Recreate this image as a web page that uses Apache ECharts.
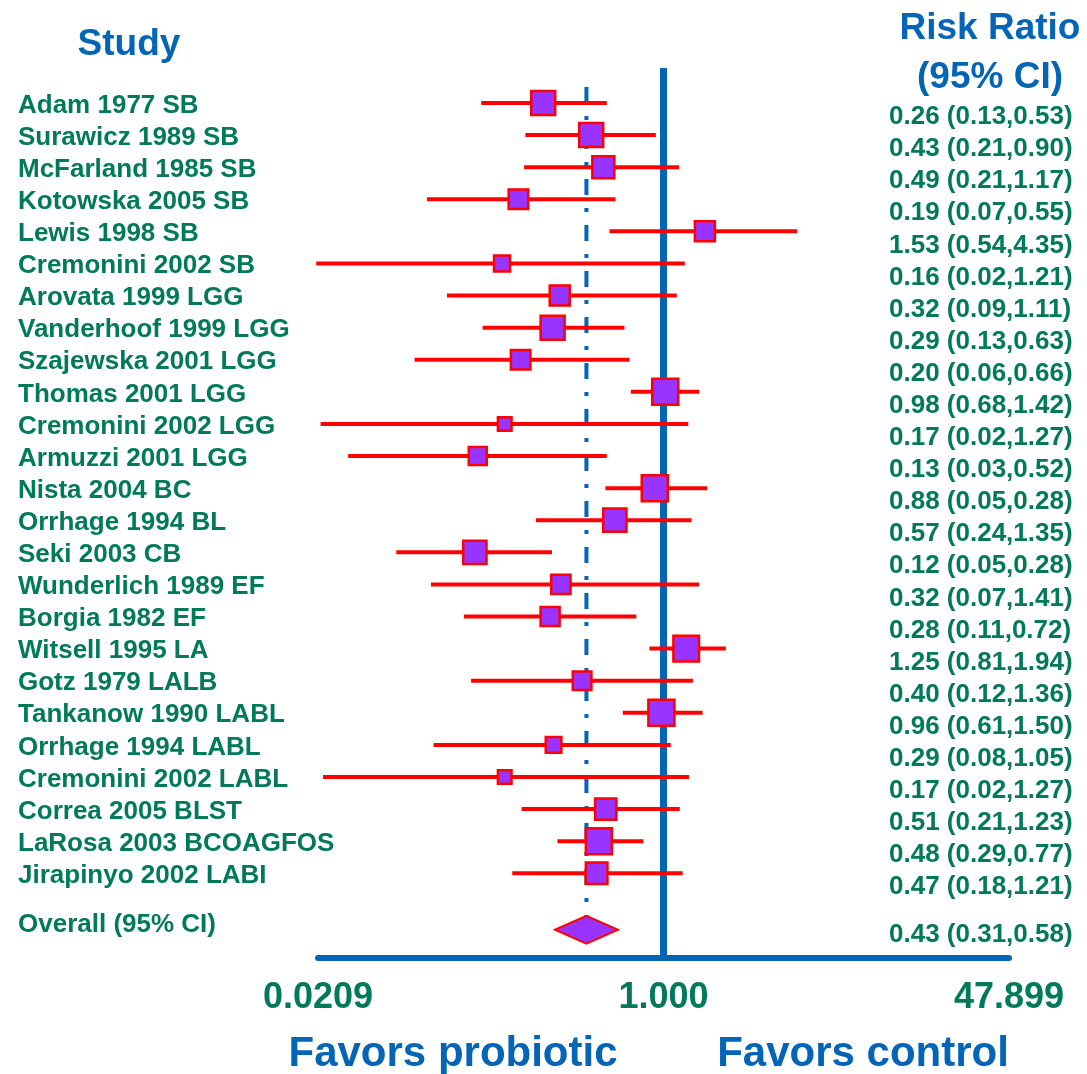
<!DOCTYPE html>
<html>
<head>
<meta charset="utf-8">
<script src="https://cdn.jsdelivr.net/npm/echarts@6/dist/echarts.min.js"></script>
<style>
html,body{margin:0;padding:0;background:#fff;}
#chart{width:1087px;height:1074px;}
</style>
</head>
<body>
<div id="chart"></div>
<script>
// ---- Data ----
const studies = [
  'Adam 1977 SB','Surawicz 1989 SB','McFarland 1985 SB','Kotowska 2005 SB','Lewis 1998 SB',
  'Cremonini 2002 SB','Arovata 1999 LGG','Vanderhoof 1999 LGG','Szajewska 2001 LGG','Thomas 2001 LGG',
  'Cremonini 2002 LGG','Armuzzi 2001 LGG','Nista 2004 BC','Orrhage 1994 BL','Seki 2003 CB',
  'Wunderlich 1989 EF','Borgia 1982 EF','Witsell 1995 LA','Gotz 1979 LALB','Tankanow 1990 LABL',
  'Orrhage 1994 LABL','Cremonini 2002 LABL','Correa 2005 BLST','LaRosa 2003 BCOAGFOS','Jirapinyo 2002 LABI'
];
const ciText = [
  '0.26 (0.13,0.53)','0.43 (0.21,0.90)','0.49 (0.21,1.17)','0.19 (0.07,0.55)','1.53 (0.54,4.35)',
  '0.16 (0.02,1.21)','0.32 (0.09,1.11)','0.29 (0.13,0.63)','0.20 (0.06,0.66)','0.98 (0.68,1.42)',
  '0.17 (0.02,1.27)','0.13 (0.03,0.52)','0.88 (0.05,0.28)','0.57 (0.24,1.35)','0.12 (0.05,0.28)',
  '0.32 (0.07,1.41)','0.28 (0.11,0.72)','1.25 (0.81,1.94)','0.40 (0.12,1.36)','0.96 (0.61,1.50)',
  '0.29 (0.08,1.05)','0.17 (0.02,1.27)','0.51 (0.21,1.23)','0.48 (0.29,0.77)','0.47 (0.18,1.21)'
];
// plotted risk ratio and CI bounds (as drawn)
const rr   = [0.26,0.445,0.51,0.197,1.59,0.164,0.313,0.289,0.202,1.02,0.169,0.125,0.907,0.58,0.121,0.317,0.281,1.29,0.402,0.977,0.292,0.169,0.524,0.485,0.473];
const ciLo = [0.13,0.213,0.21,0.0708,0.546,0.0205,0.0885,0.132,0.0616,0.694,0.0215,0.0293,0.522,0.24,0.0502,0.074,0.107,0.854,0.116,0.634,0.0762,0.0221,0.204,0.305,0.184];
const ciHi = [0.53,0.918,1.19,0.584,4.46,1.27,1.16,0.646,0.683,1.49,1.32,0.53,1.63,1.37,0.287,1.49,0.738,2.01,1.39,1.55,1.085,1.33,1.20,0.799,1.24];
// study weight (marker side length)
const weight = [26,26,24,21.5,22,18,22,26,21.5,28,15.6,20,28,25.3,25.3,21.3,21,27.6,20.6,28,17.6,15.6,23.3,28,23.6];

const overallLabel = 'Overall (95% CI)';
const overallText = '0.43 (0.31,0.58)';
const overall = {rr: 0.422, lo: 0.297, hi: 0.600};

const xTickValues = [0.0209, 1, 47.899];
const xTickLabels = ['0.0209', '1.000', '47.899'];

// ---- row positions ----
const rowIdx = studies.map((s, i) => i);
const overallRow = 25.76;

const GREEN = '#007a5a';
const BLUE = '#0465b6';
const FONT = '"Liberation Sans", Arial, sans-serif';

const studyData = studies.map((s, i) => [rr[i], ciLo[i], ciHi[i], rowIdx[i], weight[i]]);

function isOverall(v) { return Math.abs(v - overallRow) < 0.01; }
function labelFor(v, arr, extra) {
  if (isOverall(v)) return extra;
  const i = Math.round(v);
  return arr[i] !== undefined ? arr[i] : '';
}

const chart = echarts.init(document.getElementById('chart'), null, {renderer: 'canvas'});
chart.setOption({
  animation: false,
  backgroundColor: '#ffffff',
  grid: {left: 318, right: 78, top: 68, bottom: 116, containLabel: false},
  xAxis: {
    type: 'log', logBase: 10, min: 0.02089, max: 47.9,
    axisLine: {show: true, onZero: false, lineStyle: {color: BLUE, width: 6}},
    axisTick: {show: false},
    splitLine: {show: false},
    axisLabel: {
      customValues: xTickValues,
      margin: 22,
      color: GREEN, fontSize: 36, fontWeight: 'bold', fontFamily: FONT,
      formatter: function (v) {
        let best = 0, bd = Infinity;
        xTickValues.forEach((t, i) => { const d = Math.abs(Math.log(t) - Math.log(v)); if (d < bd) { bd = d; best = i; } });
        return xTickLabels[best];
      }
    }
  },
  yAxis: [{
    type: 'value', inverse: true, min: -1.09, max: 26.64, position: 'left',
    axisLine: {show: false}, axisTick: {show: false}, splitLine: {show: false},
    axisLabel: {
      customValues: rowIdx.concat([overallRow]),
      align: 'left', margin: 300,
      formatter: function (v) {
        const t = labelFor(v, studies, overallLabel);
        return isOverall(v) ? '{o|' + t + '}' : '{s|' + t + '}';
      },
      rich: {
        s: {color: GREEN, fontSize: 26, fontWeight: 'bold', fontFamily: FONT, padding: [5, 0, 0, 0]},
        o: {color: GREEN, fontSize: 26, fontWeight: 'bold', fontFamily: FONT, padding: [0, 0, 10, 0]}
      }
    }
  }, {
    type: 'value', inverse: true, min: -1.09, max: 26.64, position: 'right', offset: -120,
    axisLine: {show: false}, axisTick: {show: false}, splitLine: {show: false},
    axisLabel: {
      customValues: rowIdx.concat([overallRow]),
      align: 'left', margin: 0,
      formatter: function (v) {
        const t = labelFor(v, ciText, overallText);
        return isOverall(v) ? '{o|' + t + '}' : '{r|' + t + '}';
      },
      rich: {
        r: {color: GREEN, fontSize: 26, fontWeight: 'bold', fontFamily: FONT, padding: [28, 0, 0, 0]},
        o: {color: GREEN, fontSize: 26, fontWeight: 'bold', fontFamily: FONT, padding: [11, 0, 0, 0]}
      }
    }
  }],
  series: [
    {
      // overall dash-dot line and reference line at RR = 1
      type: 'line', xAxisIndex: 0, yAxisIndex: 0, silent: true, z: 1,
      data: [[overall.rr, -0.5], [overall.rr, 25.33]],
      symbol: 'none',
      lineStyle: {color: BLUE, width: 4, type: [16, 13, 4, 13]},
      markLine: {
        silent: true, symbol: 'none', label: {show: false},
        lineStyle: {color: BLUE, width: 7, type: 'solid'},
        data: [{xAxis: 1}]
      }
    },
    {
      type: 'custom', xAxisIndex: 0, yAxisIndex: 0, z: 5,
      data: studyData,
      encode: {x: [0, 1, 2], y: 3},
      renderItem: function (params, api) {
        const y = api.value(3);
        const c = api.coord([api.value(0), y]);
        const l = api.coord([api.value(1), y]);
        const h = api.coord([api.value(2), y]);
        const s = api.value(4) - 2;
        return {
          type: 'group',
          children: [
            {type: 'line', shape: {x1: l[0], y1: l[1], x2: h[0], y2: h[1]}, style: {stroke: '#ff0000', lineWidth: 4}},
            {type: 'rect', shape: {x: c[0] - s / 2, y: c[1] - s / 2, width: s, height: s}, style: {fill: '#9933ff', stroke: '#ff0000', lineWidth: 2.5}}
          ]
        };
      }
    },
    {
      type: 'custom', xAxisIndex: 0, yAxisIndex: 0, z: 5,
      data: [[overall.rr, overall.lo, overall.hi, overallRow]],
      encode: {x: [0, 1, 2], y: 3},
      renderItem: function (params, api) {
        const y = api.value(3);
        const c = api.coord([api.value(0), y]);
        const l = api.coord([api.value(1), y]);
        const h = api.coord([api.value(2), y]);
        const hh = 14;
        return {
          type: 'polygon',
          shape: {points: [[l[0], l[1]], [c[0], c[1] - hh], [h[0], h[1]], [c[0], c[1] + hh]]},
          style: {fill: '#9933ff', stroke: '#ff0000', lineWidth: 2}
        };
      }
    }
  ],
  graphic: [
    {type: 'text', x: 129, y: 45, style: {text: 'Study', fill: BLUE, font: 'bold 37px ' + FONT, align: 'center', verticalAlign: 'middle'}},
    {type: 'text', x: 990, y: 29, style: {text: 'Risk Ratio', fill: BLUE, font: 'bold 37px ' + FONT, align: 'center', verticalAlign: 'middle'}},
    {type: 'text', x: 990, y: 78, style: {text: '(95% CI)', fill: BLUE, font: 'bold 37px ' + FONT, align: 'center', verticalAlign: 'middle'}},
    {type: 'text', x: 453, y: 1054, style: {text: 'Favors probiotic', fill: BLUE, font: 'bold 42px ' + FONT, align: 'center', verticalAlign: 'middle'}},
    {type: 'text', x: 863, y: 1054, style: {text: 'Favors control', fill: BLUE, font: 'bold 42px ' + FONT, align: 'center', verticalAlign: 'middle'}}
  ]
});
</script>
</body>
</html>
